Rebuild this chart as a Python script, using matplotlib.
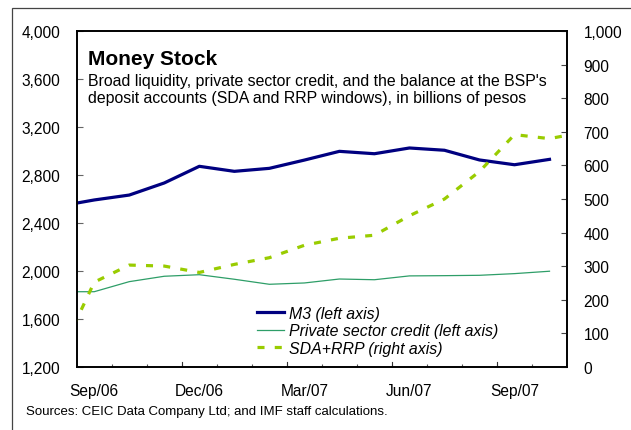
import matplotlib
matplotlib.use('Agg')
import matplotlib.pyplot as plt
from matplotlib.patches import Rectangle

plt.rcParams['font.family'] = ['Liberation Sans', 'DejaVu Sans']

# Months from Aug/06 to Nov/07 (first and last are cut by the axes edges)
months = ['Aug/06', 'Sep/06', 'Oct/06', 'Nov/06', 'Dec/06', 'Jan/07', 'Feb/07',
          'Mar/07', 'Apr/07', 'May/07', 'Jun/07', 'Jul/07', 'Aug/07', 'Sep/07',
          'Oct/07', 'Nov/07']

# billions of pesos, left axis (no value for Nov/07)
m3 = [2540, 2592, 2633, 2734, 2873, 2831, 2856, 2925, 2998, 2978, 3026, 3007,
      2926, 2886, 2931, None]
credit = [1826, 1826, 1910, 1955, 1968, 1930, 1888, 1899, 1932, 1926, 1958,
          1960, 1963, 1977, 1997, None]
# billions of pesos, right axis
sda_rrp = [30, 252, 303, 300, 281, 305, 325, 362, 383, 392, 450, 500, 582,
           692, 680, 700]

tick_labels = ['Sep/06', 'Dec/06', 'Mar/07', 'Jun/07', 'Sep/07']
tick_months = [1, 4, 7, 10, 13]

fig = plt.figure(figsize=(6.31, 4.31), dpi=100)
ax = fig.add_axes([0.1216, 0.1469, 0.7770, 0.7781])
ax2 = ax.twinx()

# month i sits at the centre of interval [i-1, i] on the axis
x = [i - 0.5 for i in range(len(months))]

def clean(xs, ys):
    pts = [(a, b) for a, b in zip(xs, ys) if b is not None]
    return [p[0] for p in pts], [p[1] for p in pts]

mx, my = clean(x, m3)
cx, cy = clean(x, credit)
l1, = ax.plot(mx, my, color='#000080', lw=2.3, label='M3 (left axis)')
l2, = ax.plot(cx, cy, color='#2e9e68', lw=0.9, label='Private sector credit (left axis)')
l3, = ax2.plot(x, sda_rrp, color='#99cc00', lw=2.3, dashes=(2.2, 3.2),
               label='SDA+RRP (right axis)')

ax.set_xlim(0, 14)
ax.set_ylim(1200, 4000)
ax2.set_ylim(0, 1000)
ax.set_yticks(range(1200, 4001, 400))
ax.set_yticklabels([f'{v:,}' for v in range(1200, 4001, 400)])
ax2.set_yticks(range(0, 1001, 100))
ax2.set_yticklabels([f'{v:,}' for v in range(0, 1001, 100)])

# short ticks at every month boundary, longer ones at quarter boundaries
ax.set_xticks(range(1, 14), minor=True)
ax.set_xticks([i - 0.5 for i in tick_months])
ax.set_xticklabels(tick_labels)
ax.tick_params(axis='x', which='major', length=0, pad=12, labelsize=11.2)
ax.tick_params(axis='x', which='minor', direction='in', length=2.5,
               color='#555555', width=0.8)
for v in [3, 6, 9, 12]:
    ax.axvline(v, ymin=0, ymax=0.013, color='#333333', lw=0.8)

ax.tick_params(axis='y', direction='in', length=4, color='#666666', width=0.8,
               pad=12, labelsize=11.2)
ax2.tick_params(axis='y', direction='in', length=4, color='#444444', width=0.8,
                pad=12, labelsize=11.2)

for a in (ax, ax2):
    for s in a.spines.values():
        s.set_linewidth(1.2)
        s.set_color('black')

fig.text(0.139, 0.863, 'Money Stock', fontsize=15, fontweight='bold',
         va='center', ha='left')
fig.text(0.139, 0.791,
         "Broad liquidity, private sector credit, and the balance at the BSP's\n"
         "deposit accounts (SDA and RRP windows), in billions of pesos",
         fontsize=11.4, va='center', ha='left', linespacing=1.2)

leg = ax.legend(handles=[l1, l2, l3], loc='lower left',
                bbox_to_anchor=(0.346, 0.0), frameon=False,
                prop={'style': 'italic', 'size': 11.4}, handlelength=1.65,
                handletextpad=0.35, labelspacing=0.16, borderpad=0.2)

fig.text(0.041, 0.044, 'Sources: CEIC Data Company Ltd; and IMF staff calculations.',
         fontsize=9.5, va='center', ha='left')

# outer frame (cut by the image edges on the right and bottom)
fig.patches.append(Rectangle((0.019, -0.05), 1.1, 1.029,
                             transform=fig.transFigure, fill=False,
                             edgecolor='#444444', lw=0.9))

fig.savefig('out.png', dpi=100)
